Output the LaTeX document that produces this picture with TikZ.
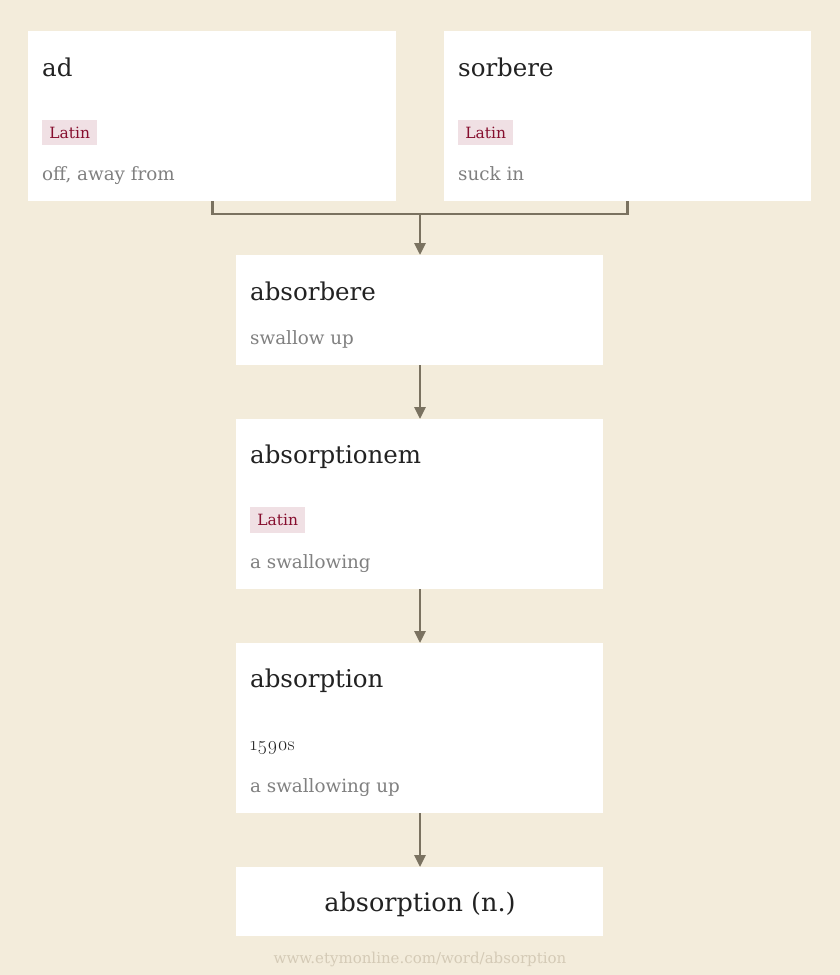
\documentclass[tikz,border=0pt]{standalone}
\usepackage{fontspec}
\setmainfont{DejaVu Serif}
\newfontfamily\osf[Numbers=OldStyle]{Latin Modern Roman}
\usetikzlibrary{arrows.meta}
\definecolor{bg}{RGB}{243,236,219}
\definecolor{linec}{RGB}{122,114,96}
\definecolor{glossc}{RGB}{128,128,128}
\definecolor{titlec}{RGB}{34,34,34}
\definecolor{tagfill}{RGB}{240,224,228}
\definecolor{tagtext}{RGB}{134,14,46}
\definecolor{footc}{RGB}{212,202,182}
\tikzset{
  card/.style={anchor=north west,fill=white,draw=none,inner sep=0pt,minimum width=#1},
  card/.default=367pt,
  title/.style={anchor=base west,inner sep=0pt,text=titlec,font=\fontsize{24.5}{29}\selectfont},
  gloss/.style={anchor=base west,inner sep=0pt,text=glossc,font=\fontsize{18.3}{22}\selectfont},
  tagbox/.style={anchor=north west,fill=tagfill,inner sep=0pt,minimum width=55pt,minimum height=25.5pt,
     text=tagtext,font=\fontsize{15.5}{18}\selectfont},
  datetext/.style={anchor=base west,inner sep=0pt,text=titlec,font=\osf\fontsize{19.5}{23}\selectfont},
  link/.style={draw=linec,line width=2.8pt},
  arrowlink/.style={link,-{Triangle[width=11pt,length=12pt]}},
}
\begin{document}
\begin{tikzpicture}[x=1pt,y=1pt]
\useasboundingbox (0,0) rectangle (840,-975);
\fill[bg] (0,0) rectangle (840,-975);
% cards
\node[card=368pt,minimum height=170pt] (ad) at (28,-31) {};
\node[card=367pt,minimum height=170pt] (sorbere) at (444,-31) {};
\node[card,minimum height=110pt] (absorbere) at (236,-255) {};
\node[card,minimum height=170pt] (absorptionem) at (236,-419) {};
\node[card,minimum height=170pt] (absorption) at (236,-643) {};
\node[card,minimum height=69pt] (final) at (236,-867) {};
% texts: ad
\node[title] (adt) at (42,-76) {ad};
\node[tagbox] (adtag) at (42,-119.5) {Latin};
\node[gloss] (adg) at (42,-180) {off, away from};
% sorbere
\node[title] (sot) at (458,-76) {sorbere};
\node[tagbox] (sotag) at (458,-119.5) {Latin};
\node[gloss] (sog) at (458,-180) {suck in};
% absorbere
\node[title] (abt) at (250,-300) {absorbere};
\node[gloss] (abg) at (250,-344) {swallow up};
% absorptionem
\node[title] (apt) at (250,-463) {absorptionem};
\node[tagbox] (aptag) at (250,-507) {Latin};
\node[gloss] (apg) at (250,-568) {a swallowing};
% absorption
\node[title] (ast) at (250,-687) {absorption};
\node[datetext] (asd) at (250,-750.7) {1590s};
\node[gloss] (asg) at (250,-792) {a swallowing up};
% final
\node[anchor=base,inner sep=0pt,text=titlec,font=\fontsize{25.5}{30}\selectfont] (ft) at (420,-911.7) {absorption (n.)};
% footer
\node[anchor=base,inner sep=0pt,text=footc,font=\fontsize{15}{18}\selectfont] (foot) at (420,-963.3) {www.etymonline.com/word/absorption};
% connectors
\coordinate (j) at (420,-214);
\draw[link] (ad.south) |- (j) -| (sorbere.south);
\draw[arrowlink] (j) -- (absorbere.north -| j);
\draw[arrowlink] (absorbere.south -| j) -- (absorptionem.north -| j);
\draw[arrowlink] (absorptionem.south -| j) -- (absorption.north -| j);
\draw[arrowlink] (absorption.south -| j) -- (final.north -| j);
\end{tikzpicture}
\end{document}
